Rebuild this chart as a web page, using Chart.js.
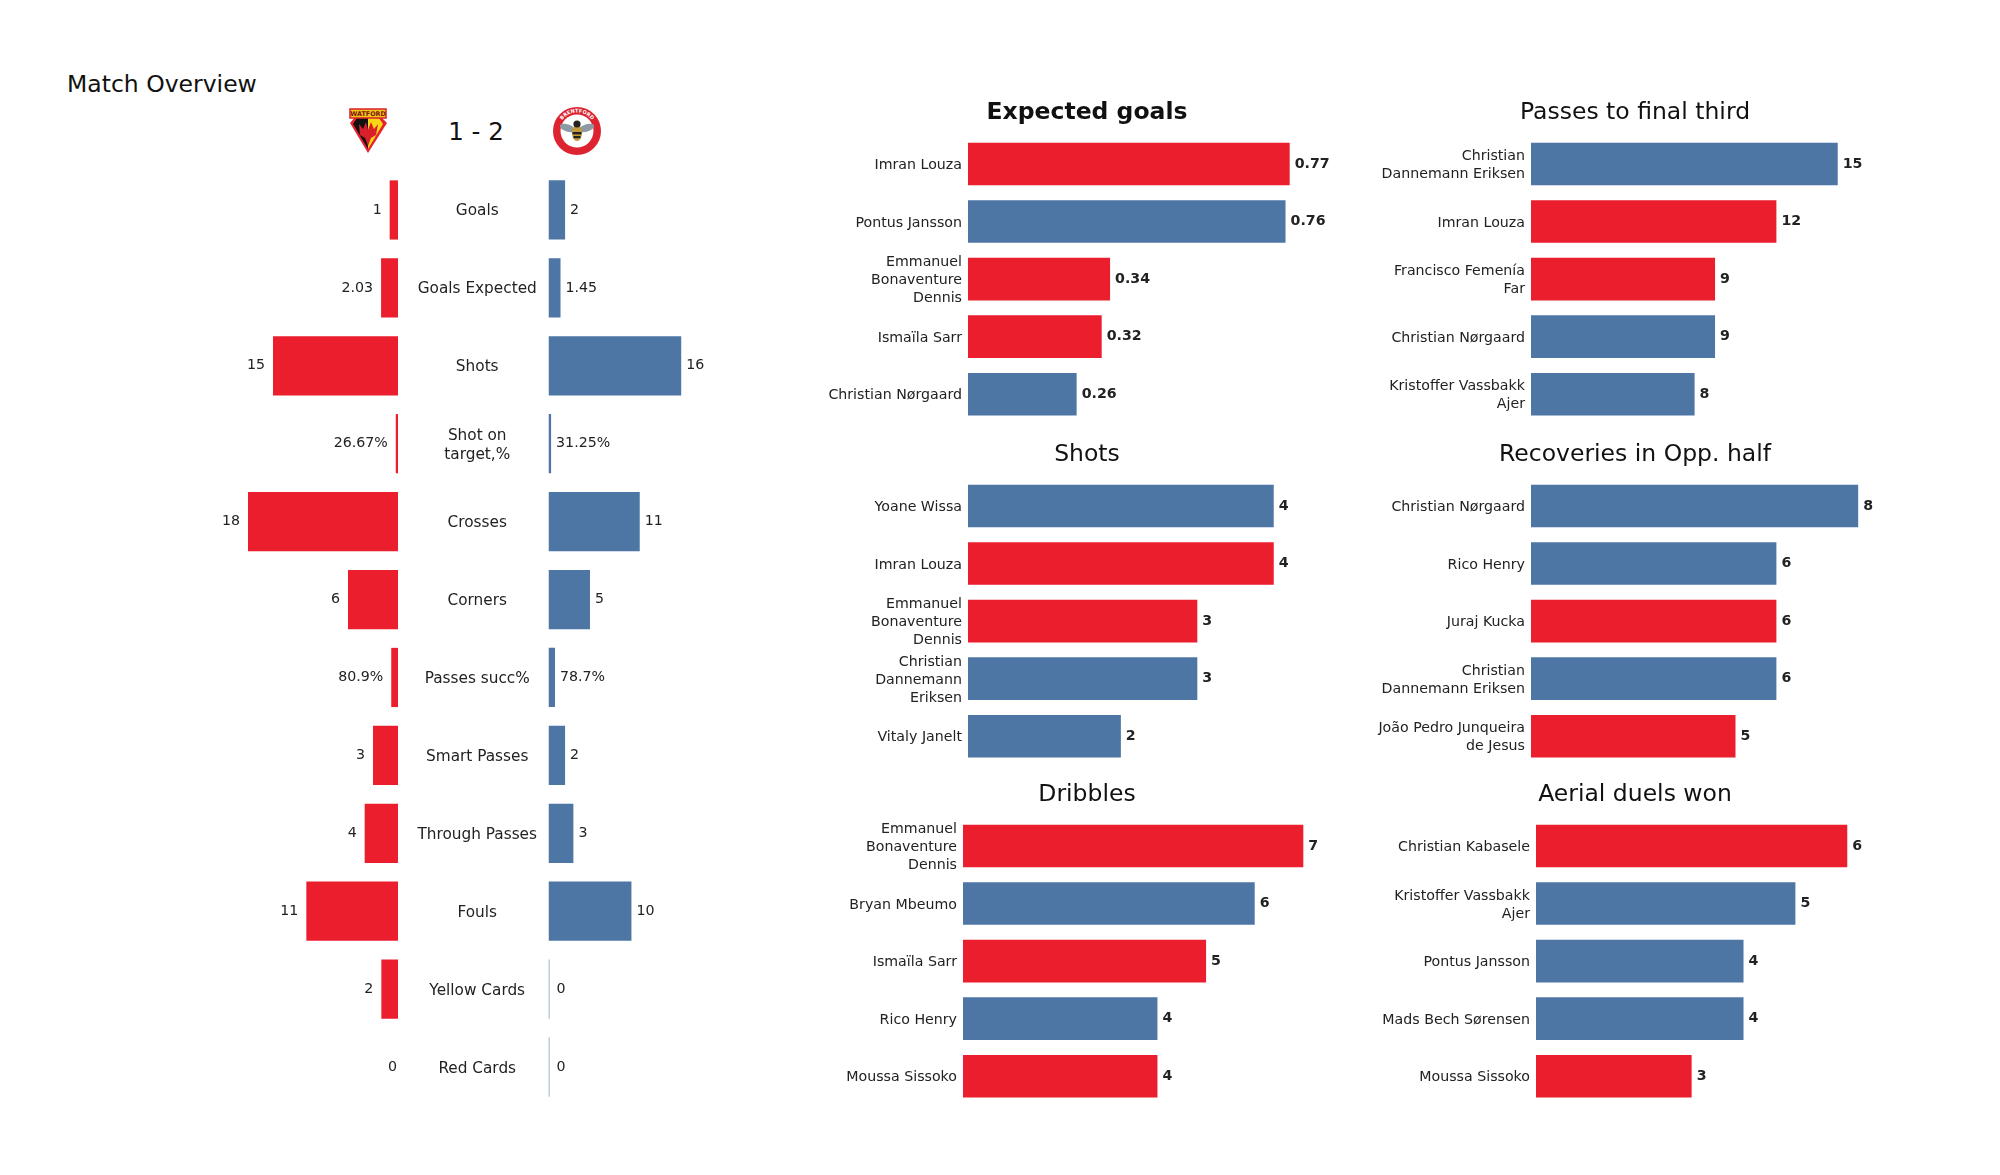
<!DOCTYPE html>
<html>
<head>
<meta charset="utf-8">
<title>Match Overview</title>
<script src="https://cdn.jsdelivr.net/npm/chart.js@4/dist/chart.umd.min.js"></script>
<style>
  html, body { margin: 0; padding: 0; background: #fff; }
  body { position: relative; width: 2000px; height: 1175px; overflow: hidden; font-family: 'DejaVu Sans', sans-serif; }
  canvas, svg, .txt { position: absolute; }
  .txt { color: #111; white-space: nowrap; }
  #heading { left: 67px; top: 69px; font-size: 23.5px; line-height: 30px; }
  #score { left: 396px; width: 160px; text-align: center; top: 116px; font-size: 24.5px; line-height: 32px; }
</style>
</head>
<body>
<div class="txt" id="heading">Match Overview</div>
<div class="txt" id="score">1 - 2</div>

<svg style="left:347px;top:108px" width="42" height="46" viewBox="0 0 42 46">
  <path d="M3 15 L21 45 L40 15 L33 8 L9 8 Z" fill="#e8222c"/>
  <path d="M6 16 L21 41 L21 10 L10 10 Z" fill="#111"/>
  <path d="M36 16 L21 41 L21 10 L32 10 Z" fill="#f8d816"/>
  <path d="M12 16 L16 21 L19 14 L21 22 L24 14 L27 21 L31 16 L29 27 L24 30 L21 38 L18 30 L13 27 Z" fill="#d9202a"/>
  <rect x="3" y="1" width="36" height="9" fill="#f5c518" stroke="#d9202a" stroke-width="1.5"/>
  <text x="21" y="8" text-anchor="middle" font-size="6.4" font-weight="bold" fill="#7a1410">WATFORD</text>
</svg>

<svg style="left:553px;top:107px" width="48" height="48" viewBox="0 0 48 48">
  <circle cx="24" cy="24" r="24" fill="#dd2230"/>
  <circle cx="24" cy="24" r="16.5" fill="#fff"/>
  <defs><path id="ringTop" d="M5.5 24 A18.5 18.5 0 0 1 42.5 24"/></defs>
  <text font-size="5" font-weight="bold" fill="#fff"><textPath href="#ringTop" startOffset="50%" text-anchor="middle">BRENTFORD</textPath></text>
  <ellipse cx="14.5" cy="21" rx="8" ry="3.6" fill="#8d9aa3" transform="rotate(18 14.5 21)"/>
  <ellipse cx="33.5" cy="21" rx="8" ry="3.6" fill="#8d9aa3" transform="rotate(-18 33.5 21)"/>
  <ellipse cx="24" cy="26" rx="5" ry="8" fill="#c49a3a"/>
  <rect x="19.5" y="25" width="9" height="2.4" fill="#222"/>
  <rect x="20.5" y="29" width="7" height="2.2" fill="#222"/>
  <circle cx="24" cy="17" r="3.6" fill="#222"/>
</svg>

<canvas id="overviewWatford" style="left:98px;top:171px" width="300" height="935"></canvas>
<canvas id="overviewBrentford" style="left:397px;top:171px" width="402" height="935"></canvas>
<canvas id="xgChart" style="left:807px;top:90px" width="560" height="333"></canvas>
<canvas id="finalThirdChart" style="left:1375px;top:90px" width="520" height="333"></canvas>
<canvas id="shotsChart" style="left:807px;top:432px" width="560" height="333"></canvas>
<canvas id="recoveriesChart" style="left:1375px;top:432px" width="520" height="333"></canvas>
<canvas id="dribblesChart" style="left:807px;top:772px" width="560" height="333"></canvas>
<canvas id="aerialChart" style="left:1375px;top:772px" width="520" height="333"></canvas>

<script>
const overviewStats = ['Goals', 'Goals Expected', 'Shots', ['Shot on', 'target,%'], 'Crosses', 'Corners',
    'Passes succ%', 'Smart Passes', 'Through Passes', 'Fouls', 'Yellow Cards', 'Red Cards'];
const watfordValues = [1, 2.03, 15, 0.2667, 18, 6, 0.809, 3, 4, 11, 2, 0];
const brentfordValues = [2, 1.45, 16, 0.3125, 11, 5, 0.787, 2, 3, 10, 0, 0];
const watfordLabels = ['1', '2.03', '15', '26.67%', '18', '6', '80.9%', '3', '4', '11', '2', '0'];
const brentfordLabels = ['2', '1.45', '16', '31.25%', '11', '5', '78.7%', '2', '3', '10', '0', '0'];

const xgPlayers = ['Imran Louza', 'Pontus Jansson', ['Emmanuel', 'Bonaventure', 'Dennis'], 'Ismaïla Sarr', 'Christian Nørgaard'];
const xgValues = [0.77, 0.76, 0.34, 0.32, 0.26];
const xgTeams = ['W', 'B', 'W', 'W', 'B'];

const finalThirdPlayers = [['Christian', 'Dannemann Eriksen'], 'Imran Louza', ['Francisco Femenía', 'Far'], 'Christian Nørgaard', ['Kristoffer Vassbakk', 'Ajer']];
const finalThirdValues = [15, 12, 9, 9, 8];
const finalThirdTeams = ['B', 'W', 'W', 'B', 'B'];

const shotsPlayers = ['Yoane Wissa', 'Imran Louza', ['Emmanuel', 'Bonaventure', 'Dennis'], ['Christian', 'Dannemann', 'Eriksen'], 'Vitaly Janelt'];
const shotsValues = [4, 4, 3, 3, 2];
const shotsTeams = ['B', 'W', 'W', 'B', 'B'];

const recoveriesPlayers = ['Christian Nørgaard', 'Rico Henry', 'Juraj Kucka', ['Christian', 'Dannemann Eriksen'], ['João Pedro Junqueira', 'de Jesus']];
const recoveriesValues = [8, 6, 6, 6, 5];
const recoveriesTeams = ['B', 'B', 'W', 'B', 'W'];

const dribblesPlayers = [['Emmanuel', 'Bonaventure', 'Dennis'], 'Bryan Mbeumo', 'Ismaïla Sarr', 'Rico Henry', 'Moussa Sissoko'];
const dribblesValues = [7, 6, 5, 4, 4];
const dribblesTeams = ['W', 'B', 'W', 'B', 'W'];

const aerialPlayers = ['Christian Kabasele', ['Kristoffer Vassbakk', 'Ajer'], 'Pontus Jansson', 'Mads Bech Sørensen', 'Moussa Sissoko'];
const aerialValues = [6, 5, 4, 4, 3];
const aerialTeams = ['W', 'B', 'B', 'B', 'W'];

const RED = '#ea1e2c';
const BLUE = '#4d76a5';
const ZERO_LINE = '#7f98ba';
const TEXT_COLOR = '#222';
const FONT = "'DejaVu Sans', sans-serif";

Chart.defaults.font.family = FONT;
Chart.defaults.animation = false;

// writes the number next to the end of each bar
const valueLabels = {
    id: 'valueLabels',
    afterDatasetsDraw(chart, args, opts) {
        const ctx = chart.ctx;
        const bars = chart.getDatasetMeta(0).data;
        ctx.save();
        ctx.font = `${opts.bold ? 'bold ' : ''}14.2px ${FONT}`;
        ctx.fillStyle = TEXT_COLOR;
        ctx.textBaseline = 'middle';
        ctx.textAlign = opts.side === 'left' ? 'right' : 'left';
        bars.forEach((bar, i) => {
            const isZero = chart.data.datasets[0].data[i] === 0;
            const gap = isZero ? opts.zeroGap : opts.gap;
            const x = opts.side === 'left' ? bar.x - gap : bar.x + gap;
            ctx.fillText(opts.texts[i], x, bar.y);
        });
        ctx.restore();
    }
};

// fixed axis width, and no extra room taken above and below for the first and last label
function fixAxis(scale, width) {
    scale.width = width;
    scale.paddingTop = 0;
    scale.paddingBottom = 0;
}

function drawOverviewSide(canvasId, values, texts, color, side) {
    const isLeft = side === 'left';
    return new Chart(document.getElementById(canvasId), {
        type: 'bar',
        plugins: [valueLabels],
        data: {
            labels: overviewStats,
            datasets: [{
                data: values,
                backgroundColor: c => (!isLeft && c.raw === 0) ? ZERO_LINE : color,
                minBarLength: isLeft ? 0 : 1,
                categoryPercentage: 1,
                barPercentage: 0.76
            }]
        },
        options: {
            indexAxis: 'y',
            responsive: false,
            layout: { padding: 0, autoPadding: false },
            scales: {
                x: { display: false, min: 0, max: isLeft ? 36 : 30.2, reverse: isLeft },
                y: isLeft ? { display: false } : {
                    grid: { display: false, drawTicks: false },
                    border: { display: false },
                    afterFit(scale) { fixAxis(scale, 151.5); },
                    ticks: {
                        autoSkip: false,
                        padding: 11.5,
                        labelOffset: 1.5,
                        color: TEXT_COLOR,
                        font: { size: 15.3, lineHeight: 1.22 },
                        crossAlign: 'center'
                    }
                }
            },
            plugins: {
                legend: { display: false },
                tooltip: { enabled: false },
                valueLabels: { texts, side, gap: isLeft ? 8 : 5, zeroGap: isLeft ? 1 : 7, bold: false }
            }
        }
    });
}

function drawPlayerChart(canvasId, titleText, bold, players, values, teams, axisWidth, maxValue) {
    return new Chart(document.getElementById(canvasId), {
        type: 'bar',
        plugins: [valueLabels],
        data: {
            labels: players,
            datasets: [{
                data: values,
                backgroundColor: teams.map(t => t === 'W' ? RED : BLUE),
                categoryPercentage: 1,
                barPercentage: 0.74
            }]
        },
        options: {
            indexAxis: 'y',
            responsive: false,
            layout: { padding: 0, autoPadding: false },
            scales: {
                x: { display: false, min: 0, max: maxValue },
                y: {
                    grid: { display: false, drawTicks: false },
                    border: { display: false },
                    afterFit(scale) { fixAxis(scale, axisWidth); },
                    ticks: {
                        autoSkip: false,
                        padding: 6,
                        labelOffset: 1.5,
                        color: TEXT_COLOR,
                        font: { size: 14.2, lineHeight: 1.27 }
                    }
                }
            },
            plugins: {
                legend: { display: false },
                tooltip: { enabled: false },
                title: {
                    display: true,
                    text: titleText,
                    color: '#111',
                    font: { size: 23.5, weight: bold ? 'bold' : 'normal', lineHeight: 1.2 },
                    padding: { top: 9, bottom: 8 }
                },
                valueLabels: { texts: values.map(String), side: 'right', gap: 5, zeroGap: 5, bold: true }
            }
        }
    });
}

document.addEventListener('DOMContentLoaded', () => {
    drawOverviewSide('overviewWatford', watfordValues, watfordLabels, RED, 'left');
    drawOverviewSide('overviewBrentford', brentfordValues, brentfordLabels, BLUE, 'right');

    drawPlayerChart('xgChart', 'Expected goals', true, xgPlayers, xgValues, xgTeams, 161, 0.955);
    drawPlayerChart('finalThirdChart', 'Passes to final third', false, finalThirdPlayers, finalThirdValues, finalThirdTeams, 156, 17.8);
    drawPlayerChart('shotsChart', 'Shots', false, shotsPlayers, shotsValues, shotsTeams, 161, 5.22);
    drawPlayerChart('recoveriesChart', 'Recoveries in Opp. half', false, recoveriesPlayers, recoveriesValues, recoveriesTeams, 156, 8.9);
    drawPlayerChart('dribblesChart', 'Dribbles', false, dribblesPlayers, dribblesValues, dribblesTeams, 156, 8.31);
    drawPlayerChart('aerialChart', 'Aerial duels won', false, aerialPlayers, aerialValues, aerialTeams, 161, 6.92);
});
</script>
</body>
</html>
